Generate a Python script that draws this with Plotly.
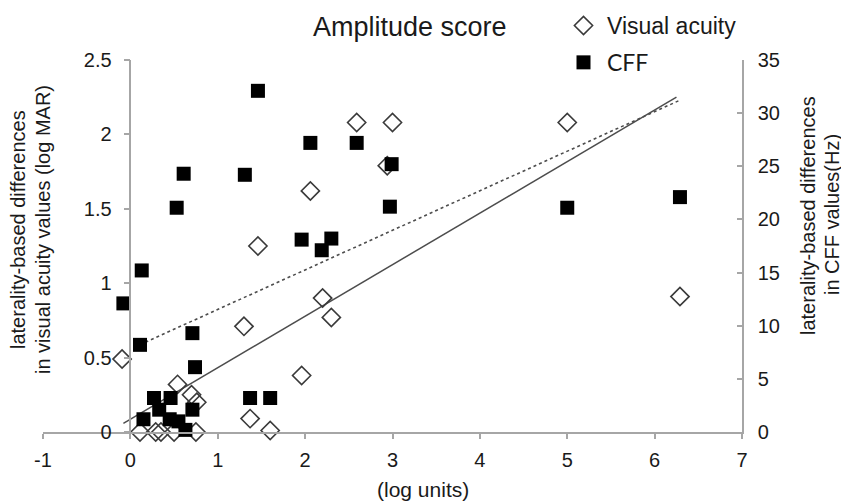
import plotly.graph_objects as go

# ---- data ----
va_x = [-0.095, 0.11, 0.29, 0.35, 0.50, 0.75, 0.54, 0.70, 0.76, 1.30, 1.37, 1.60,
        1.46, 1.96, 2.06, 2.20, 2.30, 2.59, 2.94, 3.00, 5.00, 6.29]
va_y = [0.49, 0.00, 0.00, 0.00, 0.00, 0.00, 0.32, 0.25, 0.20, 0.71, 0.09, 0.01,
        1.25, 0.38, 1.62, 0.90, 0.77, 2.08, 1.79, 2.08, 2.08, 0.91]

cff_x = [-0.08, 0.13, 0.11, 0.15, 0.27, 0.33, 0.46, 0.45, 0.53, 0.61, 0.63, 0.71,
         0.74, 0.71, 0.55, 1.31, 1.46, 1.37, 1.60, 1.96, 2.06, 2.19, 2.30, 2.59,
         2.97, 2.99, 5.00, 6.29]
cff_y = [12.1, 15.2, 8.2, 1.2, 3.2, 2.1, 3.2, 1.2, 21.1, 24.3, 0.2, 9.3,
         6.1, 2.1, 1.0, 24.2, 32.1, 3.2, 3.2, 18.1, 27.2, 17.1, 18.2, 27.2,
         21.2, 25.2, 21.1, 22.1]

# trend lines (end points, left-axis units)
solid_x = [-0.08, 6.25]
solid_y = [0.058, 2.25]
dash_x = [0.11, 6.29]
dash_y = [0.587, 2.23]

x_ticks = [-1, 0, 1, 2, 3, 4, 5, 6, 7]
x_labels = ["-1", "0", "1", "2", "3", "4", "5", "6", "7"]
left_ticks = [0, 0.5, 1, 1.5, 2, 2.5]
right_ticks = [0, 5, 10, 15, 20, 25, 30, 35]

FONT = "Liberation Sans, Arial, sans-serif"
AXC = "#a6a6a6"
TXT = "#1a1a1a"

fig = go.Figure()

fig.add_trace(go.Scatter(x=solid_x, y=solid_y, mode="lines", yaxis="y",
                         line=dict(color="#4d4d4d", width=1.5), showlegend=False,
                         hoverinfo="skip"))
fig.add_trace(go.Scatter(x=dash_x, y=dash_y, mode="lines", yaxis="y",
                         line=dict(color="#4d4d4d", width=1.6, dash="3px,3px"),
                         showlegend=False, hoverinfo="skip"))
fig.add_trace(go.Scatter(x=va_x, y=va_y, mode="markers", yaxis="y", name="Visual acuity",
                         cliponaxis=False, legendgroup="a",
                         marker=dict(symbol="diamond-open", size=14,
                                     color="#3a3a3a", line=dict(width=1.6, color="#3a3a3a"))))
fig.add_trace(go.Scatter(x=cff_x, y=cff_y, mode="markers", yaxis="y2",
                         name="<span style='font-family:Lato'>CFF</span>",
                         cliponaxis=False, legendgroup="b",
                         marker=dict(symbol="square", size=14, color="#000000",
                                     line=dict(width=0))))

# the page body has an 8px margin: the figure starts at screen (8, 8)
OFF = 8
SW, SH = 849, 504
W, H = SW - OFF, SH - OFF
# plot area in screen pixels
PL, PR, PT, PB = 43, 742, 60, 432
L, T = PL - OFF, PT - OFF
R = W - (PR - OFF)
B = H - (PB - OFF)
pw, ph = PR - PL, PB - PT


def px(x):
    return (x - PL) / pw


def py(y):
    return (PB - y) / ph


fig.update_layout(
    width=W, height=H,
    margin=dict(l=L, r=R, t=T, b=B, autoexpand=False),
    paper_bgcolor="white", plot_bgcolor="white",
    font=dict(family=FONT, size=19, color=TXT),
    xaxis=dict(domain=[0, 1], range=[-1, 7], tickvals=x_ticks, ticktext=x_labels,
               showgrid=False, zeroline=False, showline=True, linecolor=AXC,
               linewidth=1.5, ticks="outside", ticklen=5, tickcolor=AXC, tickwidth=1.5,
               ticklabelstandoff=4, anchor="y", tickfont=dict(size=20, color=TXT)),
    yaxis=dict(range=[0, 2.5], tickvals=left_ticks, showgrid=False, zeroline=False,
               showline=True, linecolor=AXC, linewidth=1.5, ticks="outside", ticklen=6,
               tickcolor=AXC, tickwidth=1.5, anchor="free", position=0.125,
               ticklabelstandoff=8, tickfont=dict(size=20, color=TXT)),
    yaxis2=dict(range=[0, 35], tickvals=right_ticks, overlaying="y", side="right",
                anchor="x", showgrid=False, zeroline=False, showline=True,
                linecolor=AXC, linewidth=1.5, ticks="inside", ticklen=5,
                tickcolor=AXC, tickwidth=1.5, ticklabelstandoff=10,
                tickfont=dict(size=20, color=TXT)),
    legend=dict(x=px(560), y=py(4), xanchor="left", yanchor="top",
                bgcolor="rgba(0,0,0,0)", font=dict(size=23, color=TXT),
                tracegroupgap=4, itemwidth=37),
    showlegend=True,
)

ann = [
    dict(text="Amplitude score", x=px(410), y=py(27), size=27),
    dict(text="(log units)", x=px(423), y=py(489), size=21),
]
for a in ann:
    fig.add_annotation(text=a["text"], x=a["x"], y=a["y"], xref="paper", yref="paper",
                       showarrow=False, xanchor="center", yanchor="middle",
                       font=dict(size=a["size"], color=TXT, family=FONT))

rot = [
    dict(text="laterality-based differences", x=18, y=230),
    dict(text="in visual acuity values (log MAR)", x=43, y=230),
    dict(text="laterality-based differences", x=808, y=215),
    dict(text="in CFF values(Hz)", x=832, y=215),
]
for a in rot:
    fig.add_annotation(text=a["text"], x=px(a["x"]), y=py(a["y"]), xref="paper",
                       yref="paper", showarrow=False, textangle=-90,
                       xanchor="center", yanchor="middle",
                       font=dict(size=20, color=TXT, family=FONT))

fig.write_html("out.html")
